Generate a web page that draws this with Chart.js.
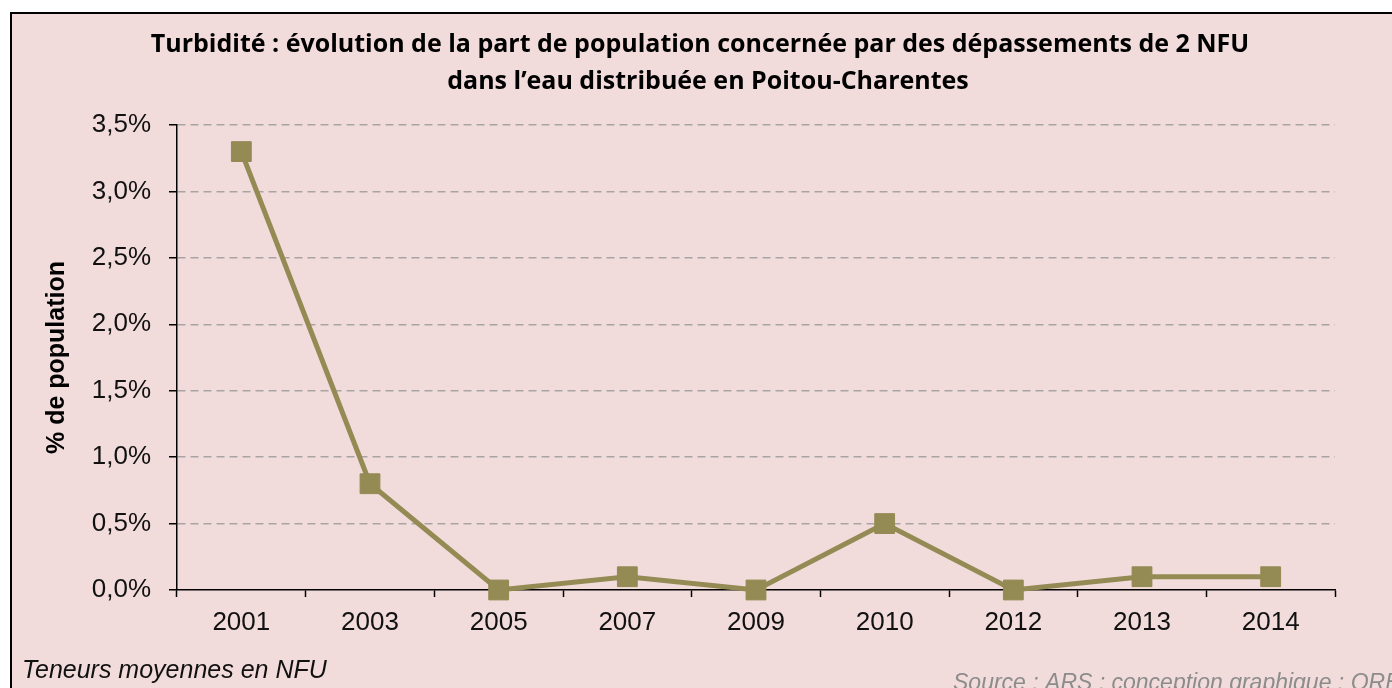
<!DOCTYPE html>
<html>
<head>
<meta charset="utf-8">
<script src="https://cdn.jsdelivr.net/npm/chart.js@4/dist/chart.umd.min.js"></script>
<style>
  body { margin: 0; background: #fff; }
  canvas { display: block; }
</style>
</head>
<body>
<canvas id="turbChart" width="1392" height="688"></canvas>
<script>
// données
const years = ['2001', '2003', '2005', '2007', '2009', '2010', '2012', '2013', '2014'];
const popShare = [3.3, 0.8, 0, 0.1, 0, 0.5, 0, 0.1, 0.1]; // % de population
const titleLines = [
  'Turbidité : évolution de la part de population concernée par des dépassements de 2 NFU',
  'dans l\u2019eau distribuée en Poitou-Charentes'
];
const yAxisTitle = '% de population';
const noteText = 'Teneurs moyennes en NFU';
const sourceText = 'Source : ARS ; conception graphique : ORE';

const pink = '#f2dcdb';
const olive = '#948a54';

// cadre, titre et notes
const decor = {
  id: 'decor',
  beforeDraw(chart) {
    const c = chart.ctx;
    c.save();
    c.fillStyle = '#fff';
    c.fillRect(0, 0, chart.width, chart.height);
    c.fillStyle = pink;
    c.fillRect(11, 13, chart.width, chart.height);
    c.strokeStyle = '#000';
    c.lineWidth = 2;
    c.beginPath();
    c.moveTo(11, chart.height);
    c.lineTo(11, 13);
    c.lineTo(chart.width, 13);
    c.stroke();

    // titre : taille ajustée à la largeur de la 1re ligne
    let size = 24;
    c.font = 'bold ' + size + 'px "Open Sans"';
    size = size * 1100 / c.measureText(titleLines[0]).width;
    c.font = 'bold ' + size.toFixed(1) + 'px "Open Sans"';
    c.fillStyle = '#000';
    c.textAlign = 'center';
    c.textBaseline = 'middle';
    c.fillText(titleLines[0], 700, 45);
    c.fillText(titleLines[1], 708, 82);

    c.textAlign = 'left';
    c.textBaseline = 'alphabetic';
    c.font = 'italic 25px "Liberation Sans"';
    c.fillStyle = '#111';
    c.fillText(noteText, 22, 678);
    c.font = 'italic 23px "Liberation Sans"';
    c.fillStyle = '#8c8c8c';
    c.fillText(sourceText, 953, 690);
    c.restore();
  }
};

const ctx = document.getElementById('turbChart').getContext('2d');
new Chart(ctx, {
  type: 'line',
  data: {
    labels: years,
    datasets: [{
      data: popShare,
      borderColor: olive,
      backgroundColor: olive,
      borderWidth: 5,
      tension: 0,
      pointStyle: 'rect',
      pointRadius: 14,
      pointHoverRadius: 14,
      pointBackgroundColor: olive,
      pointBorderColor: olive,
      pointBorderWidth: 1,
      clip: false
    }]
  },
  options: {
    responsive: false,
    animation: false,
    layout: { padding: { top: 125, right: 57, bottom: 0, left: 0 } },
    plugins: {
      legend: { display: false },
      title: { display: false },
      tooltip: { enabled: false }
    },
    scales: {
      x: {
        offset: true,
        afterFit: s => { s.height = 98; },
        grid: {
          offset: true,
          drawOnChartArea: false,
          tickLength: 7,
          tickColor: '#000',
          tickWidth: 1.5
        },
        border: { color: '#000', width: 1.5 },
        ticks: {
          color: '#111',
          padding: 10,
          font: { family: '"Liberation Sans"', size: 26 }
        }
      },
      y: {
        min: 0,
        max: 3.5,
        afterFit: s => { s.width = 177; },
        grid: {
          color: c => (c.tick && c.tick.value === 0) ? 'rgba(0,0,0,0)' : '#a8a4a4',
          lineWidth: 1.5,
          tickLength: 8,
          tickColor: '#000',
          tickWidth: 1.5,
          tickBorderDash: []
        },
        border: { color: '#000', width: 1.5, dash: [8, 5] },
        ticks: {
          stepSize: 0.5,
          color: '#111',
          padding: 18,
          font: { family: '"Liberation Sans"', size: 26 }, 
          callback: v => v.toFixed(1).replace('.', ',') + '%'
        },
        title: {
          display: true,
          text: yAxisTitle,
          color: '#000',
          font: { family: '"Liberation Sans"', size: 25, weight: 'bold' },
          padding: { top: 42, bottom: 0 }
        }
      }
    }
  },
  plugins: [decor]
});
</script>
</body>
</html>
